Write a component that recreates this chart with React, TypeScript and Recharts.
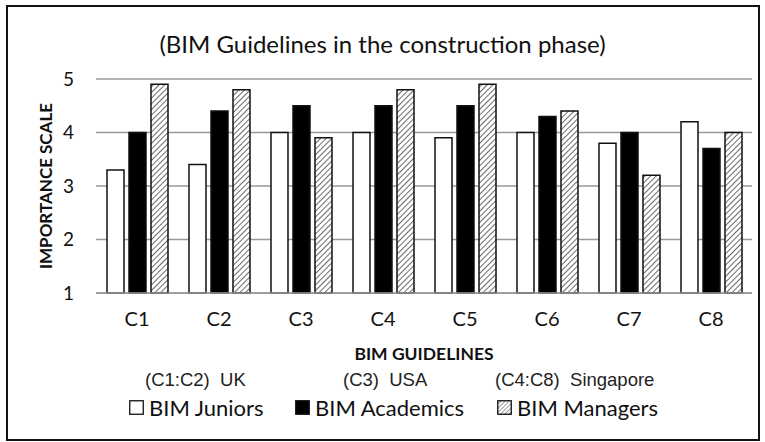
import { BarChart, Bar, XAxis, YAxis, CartesianGrid, Legend } from 'recharts';

const categories = ['C1', 'C2', 'C3', 'C4', 'C5', 'C6', 'C7', 'C8'];
const juniors = [3.3, 3.4, 4.0, 4.0, 3.9, 4.0, 3.8, 4.2];
const academics = [4.0, 4.4, 4.5, 4.5, 4.5, 4.3, 4.0, 3.7];
const managers = [4.9, 4.8, 3.9, 4.8, 4.9, 4.4, 3.2, 4.0];
const yTicks = [1, 2, 3, 4, 5];
const regions = ['(C1:C2)  UK', '(C3)  USA', '(C4:C8)  Singapore'];
const seriesOrder = ['juniors', 'academics', 'managers'];

const data = categories.map((name, i) => ({
  name,
  juniors: juniors[i],
  academics: academics[i],
  managers: managers[i],
}));

const FONT = 'Lato, "Noto Sans", sans-serif';
const ARIAL = '"Liberation Sans", Arial, sans-serif';

// positions of the legend rows, picked to line up with the original
const regionLeft = [145, 343, 495];
const itemLeft = [129, 295, 497];

const Swatch = ({ kind }: { kind: string }) => (
  <svg width={15} height={15} style={{ marginRight: 5 }}>
    <defs>
      <pattern id="hatchSmall" width="3" height="3" patternUnits="userSpaceOnUse" patternTransform="rotate(45)">
        <rect width="3" height="3" fill="#fff" />
        <line x1="0" y1="0" x2="0" y2="3" stroke="#555" strokeWidth="1.2" />
      </pattern>
    </defs>
    <rect
      x={0.75}
      y={0.75}
      width={13.5}
      height={13.5}
      fill={kind === 'juniors' ? '#fff' : kind === 'academics' ? '#000' : 'url(#hatchSmall)'}
      stroke="#111"
      strokeWidth={1.3}
    />
  </svg>
);

const renderLegend = (props: any) => {
  const items = [...(props.payload || [])].sort(
    (a: any, b: any) => seriesOrder.indexOf(a.dataKey) - seriesOrder.indexOf(b.dataKey)
  );
  return (
    <div style={{ position: 'relative', width: 765, height: 60 }}>
      {regions.map((r, i) => (
        <div
          key={r}
          style={{
            position: 'absolute',
            left: regionLeft[i],
            top: 6,
            fontFamily: ARIAL,
            fontSize: 18.5,
            color: '#222',
            whiteSpace: 'pre',
          }}
        >
          {r}
        </div>
      ))}
      {items.map((p: any, i: number) => (
        <div
          key={p.value}
          style={{
            position: 'absolute',
            left: itemLeft[i],
            top: 31,
            display: 'flex',
            alignItems: 'center',
            fontFamily: FONT,
            fontSize: 22,
            color: '#111',
          }}
        >
          <Swatch kind={p.dataKey} />
          {p.value}
        </div>
      ))}
    </div>
  );
};

export default function App() {
  return (
    <div style={{ position: 'absolute', left: 0, top: 0, width: 765, height: 442, background: '#fff' }}>
      <div
        style={{
          position: 'absolute',
          left: 6,
          top: 5,
          width: 754,
          height: 436,
          border: '2.5px solid #111',
          boxSizing: 'border-box',
        }}
      />
      <div
        style={{
          position: 'absolute',
          left: 0,
          width: 765,
          top: 29,
          textAlign: 'center',
          fontFamily: FONT,
          fontSize: 24,
          color: '#111',
        }}
      >
        (BIM Guidelines in the construction phase)
      </div>
      <div style={{ position: 'absolute', left: 0, top: 0 }}>
        <BarChart
          width={765}
          height={442}
          data={data}
          margin={{ top: 79, right: 13, left: 30, bottom: 19 }}
          barCategoryGap={9}
          barGap={5}
        >
          <defs>
            <pattern id="hatch" width="4" height="4" patternUnits="userSpaceOnUse" patternTransform="rotate(45)">
              <rect width="4" height="4" fill="#fff" />
              <line x1="0" y1="0" x2="0" y2="4" stroke="#444" strokeWidth="1.6" />
            </pattern>
          </defs>
          <CartesianGrid vertical={false} stroke="#999" strokeWidth={1.5} />
          <XAxis
            dataKey="name"
            height={70}
            axisLine={{ stroke: '#999', strokeWidth: 1.5 }}
            tickLine={false}
            tickSize={0}
            tickMargin={19}
            tick={{ fontFamily: FONT, fontSize: 20, fill: '#111' }}
            label={{
              value: 'BIM GUIDELINES',
              position: 'insideBottom',
              offset: 3,
              style: { fontFamily: FONT, fontSize: 17.5, fontWeight: 'bold', fill: '#111' },
            }}
          />
          <YAxis
            width={66}
            domain={[1, 5]}
            ticks={yTicks}
            axisLine={false}
            tickLine={false}
            tickSize={0}
            tickMargin={22}
            tick={{ fontFamily: FONT, fontSize: 19, fill: '#111' }}
            label={{
              content: (p: any) => {
                const vb = p.viewBox;
                const x = vb.x + 15;
                const y = vb.y + vb.height / 2;
                return (
                  <text
                    x={x}
                    y={y}
                    transform={`rotate(-90 ${x} ${y})`}
                    textAnchor="middle"
                    dominantBaseline="central"
                    fontFamily={FONT}
                    fontSize={17}
                    fontWeight="bold"
                    fill="#111"
                  >
                    IMPORTANCE  SCALE
                  </text>
                );
              },
            }}
          />
          <Legend verticalAlign="bottom" content={renderLegend} wrapperStyle={{ left: 0, width: 765 }} />
          <Bar dataKey="juniors" name="BIM Juniors" fill="#fff" stroke="#111" strokeWidth={1.5} barSize={17} isAnimationActive={false} />
          <Bar dataKey="academics" name="BIM Academics" fill="#000" stroke="#111" strokeWidth={1.5} barSize={17} isAnimationActive={false} />
          <Bar dataKey="managers" name="BIM Managers" fill="url(#hatch)" stroke="#111" strokeWidth={1.5} barSize={17} isAnimationActive={false} />
        </BarChart>
      </div>
    </div>
  );
}
